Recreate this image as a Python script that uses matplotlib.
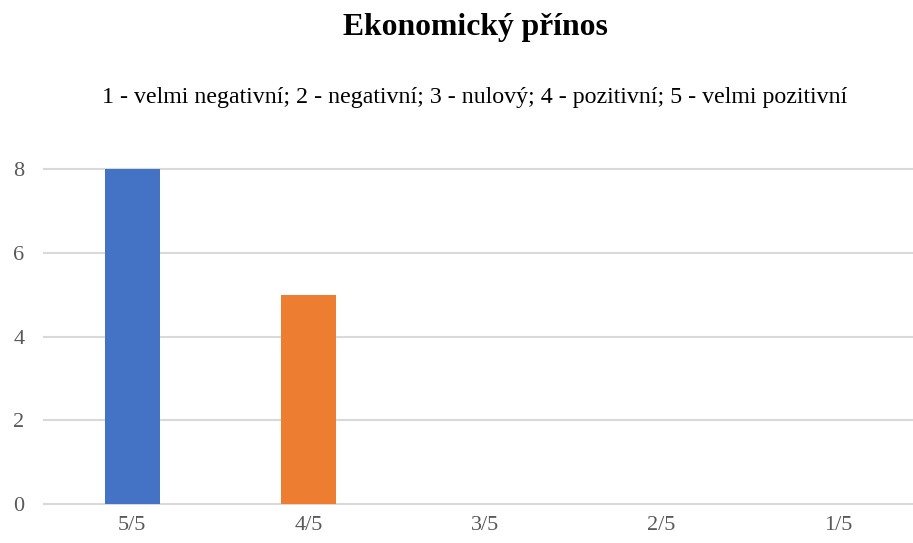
import matplotlib
matplotlib.use("Agg")
import matplotlib.pyplot as plt

categories = ["5/5", "4/5", "3/5", "2/5", "1/5"]
values = [8, 5, 0, 0, 0]
colors = ["#4472C4", "#ED7D31", "#A5A5A5", "#FFC000", "#5B9BD5"]
yticks = [0, 2, 4, 6, 8]
title = "Ekonomický přínos"
subtitle = "1 - velmi negativní; 2 - negativní; 3 - nulový; 4 - pozitivní; 5 - velmi pozitivní"

plt.rcParams['font.family'] = ['Liberation Serif', 'DejaVu Serif']

W, H = 913, 543
fig = plt.figure(figsize=(W/100, H/100), dpi=100)
left, right = 44, 926
bottom, top = 504, 169
ax = fig.add_axes([left/W, (H-bottom)/H, (right-left)/W, (bottom-top)/H])

x = list(range(len(categories)))
ax.bar(x, values, width=0.31, color=colors, zorder=3)
ax.set_xlim(-0.5, len(categories)-0.5)
ax.set_ylim(0, 8)
ax.set_yticks(yticks)
ax.set_xticks(x)
ax.set_xticklabels(categories)
ax.grid(axis='y', color='#D9D9D9', linewidth=1.5, zorder=0)
ax.set_axisbelow(True)
for gl in ax.get_ygridlines():
    gl.set_clip_on(False)
for s in ax.spines.values():
    s.set_visible(False)
ax.tick_params(axis='both', length=0, labelsize=16, labelcolor='#595959')
ax.tick_params(axis='x', pad=9)
ax.tick_params(axis='y', pad=14)

fig.text(475/W, 1-28/H, title, ha='center', va='center', fontsize=22.8, fontweight='bold', color='black')
fig.text(475/W, 1-98/H, subtitle, ha='center', va='center', fontsize=17.2, color='black')

fig.savefig("out.png", dpi=100)
